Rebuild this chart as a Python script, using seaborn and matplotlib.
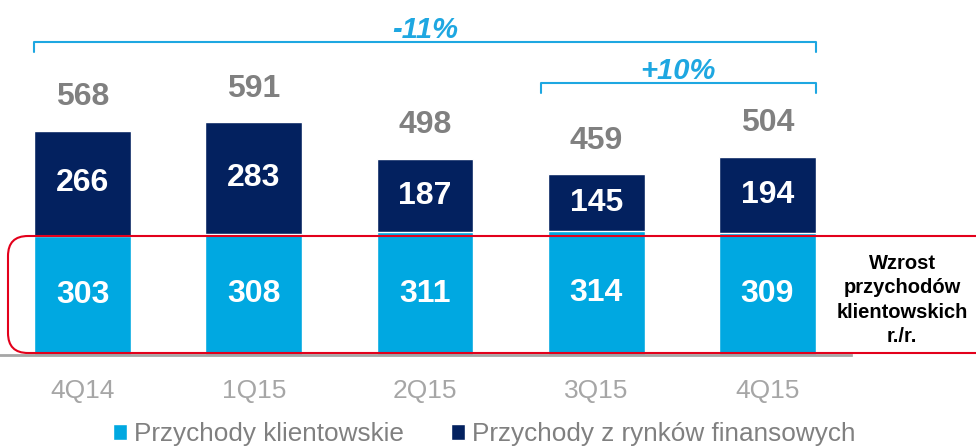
import matplotlib
matplotlib.use("Agg")
import matplotlib.pyplot as plt
import seaborn as sns
import pandas as pd
from matplotlib.patches import FancyBboxPatch, Patch
from matplotlib.transforms import IdentityTransform

# Data
quarters = ["4Q14", "1Q15", "2Q15", "3Q15", "4Q15"]
client_rev = [303, 308, 311, 314, 309]
market_rev = [266, 283, 187, 145, 194]
totals = [568, 591, 498, 459, 504]
change_labels = ["-11%", "+10%"]
legend_labels = ["Przychody klientowskie", "Przychody z rynków finansowych"]
side_note = "Wzrost\nprzychodów\nklientowskich\nr./r."

LIGHT = "#00A8E1"
DARK = "#03215F"
GRAY = "#808080"
AXIS_GRAY = "#A6A6A6"
BRACKET = "#1EA7E1"
RED = "#E3001B"
BAR_W = 0.566

df = pd.DataFrame({"quarter": quarters, "client": client_rev, "market": market_rev})
df["stack"] = df["client"] + df["market"]

sns.set_theme(style="white")
plt.rcParams["font.family"] = ["Liberation Sans", "DejaVu Sans"]

fig = plt.figure(figsize=(9.76, 4.46), dpi=100)
ax = fig.add_axes([0, 91 / 446, 851 / 976, 355 / 446])

# stacked bars: full stack in dark, client part in light on top of it
sns.barplot(data=df, x="quarter", y="stack", color=DARK, width=BAR_W,
            saturation=1, ax=ax)
sns.barplot(data=df, x="quarter", y="client", color=LIGHT, width=BAR_W,
            saturation=1, ax=ax)

ax.set_xlim(-0.482, 4.488)
ax.set_ylim(0, 901)
ax.set_yticks([])
ax.set_xlabel("")
ax.set_ylabel("")
sns.despine(ax=ax, left=True)
ax.spines["bottom"].set_color(AXIS_GRAY)
ax.spines["bottom"].set_linewidth(2)
ax.tick_params(axis="x", length=0, pad=17, labelsize=19, labelcolor=AXIS_GRAY)

lab = dict(ha="center", va="center", fontsize=23, fontweight="bold")
for i in range(len(quarters)):
    c, m = client_rev[i], market_rev[i]
    ax.text(i, c / 2, str(c), color="white", **lab)
    ax.text(i, c + m / 2, str(m), color="white", **lab)
    ax.annotate(str(totals[i]), (i, c + m), xytext=(0, 24),
                textcoords="offset points", color=GRAY, **lab)

# change brackets
left = -BAR_W / 2
right = len(quarters) - 1 + BAR_W / 2
inner = 3 - BAR_W / 2 - 0.04
ax.plot([left, left, right, right], [769, 794, 794, 769], color=BRACKET,
        lw=1.5, clip_on=False)
ax.plot([inner, inner, right, right], [665, 690, 690, 665], color=BRACKET,
        lw=1.5, clip_on=False)
ax.text((left + right) / 2, 825, change_labels[0], color=BRACKET, ha="center",
        va="center", fontsize=21, fontweight="bold", style="italic")
ax.text((inner + right) / 2, 722, change_labels[1], color=BRACKET, ha="center",
        va="center", fontsize=21, fontweight="bold", style="italic")

# red highlight around client revenue
box = FancyBboxPatch((8, 93), 1000, 117, boxstyle="round,pad=0,rounding_size=20",
                     transform=IdentityTransform(), fill=False, edgecolor=RED,
                     lw=1.5, zorder=10)
fig.add_artist(box)

fig.text(902 / 976, 1 - 300 / 446, side_note, ha="center", va="center",
         fontsize=14.5, fontweight="bold", color="black", linespacing=1.35)

handles = [Patch(facecolor=LIGHT), Patch(facecolor=DARK)]
fig.legend(handles, legend_labels, loc="center",
           bbox_to_anchor=(484 / 976, 1 - 434 / 446), ncol=2, frameon=False,
           fontsize=18.8, handlelength=0.55, handleheight=0.55,
           handletextpad=0.25, columnspacing=1.8, labelcolor=GRAY,
           borderpad=0, borderaxespad=0)

fig.savefig("out.png", dpi=100)
